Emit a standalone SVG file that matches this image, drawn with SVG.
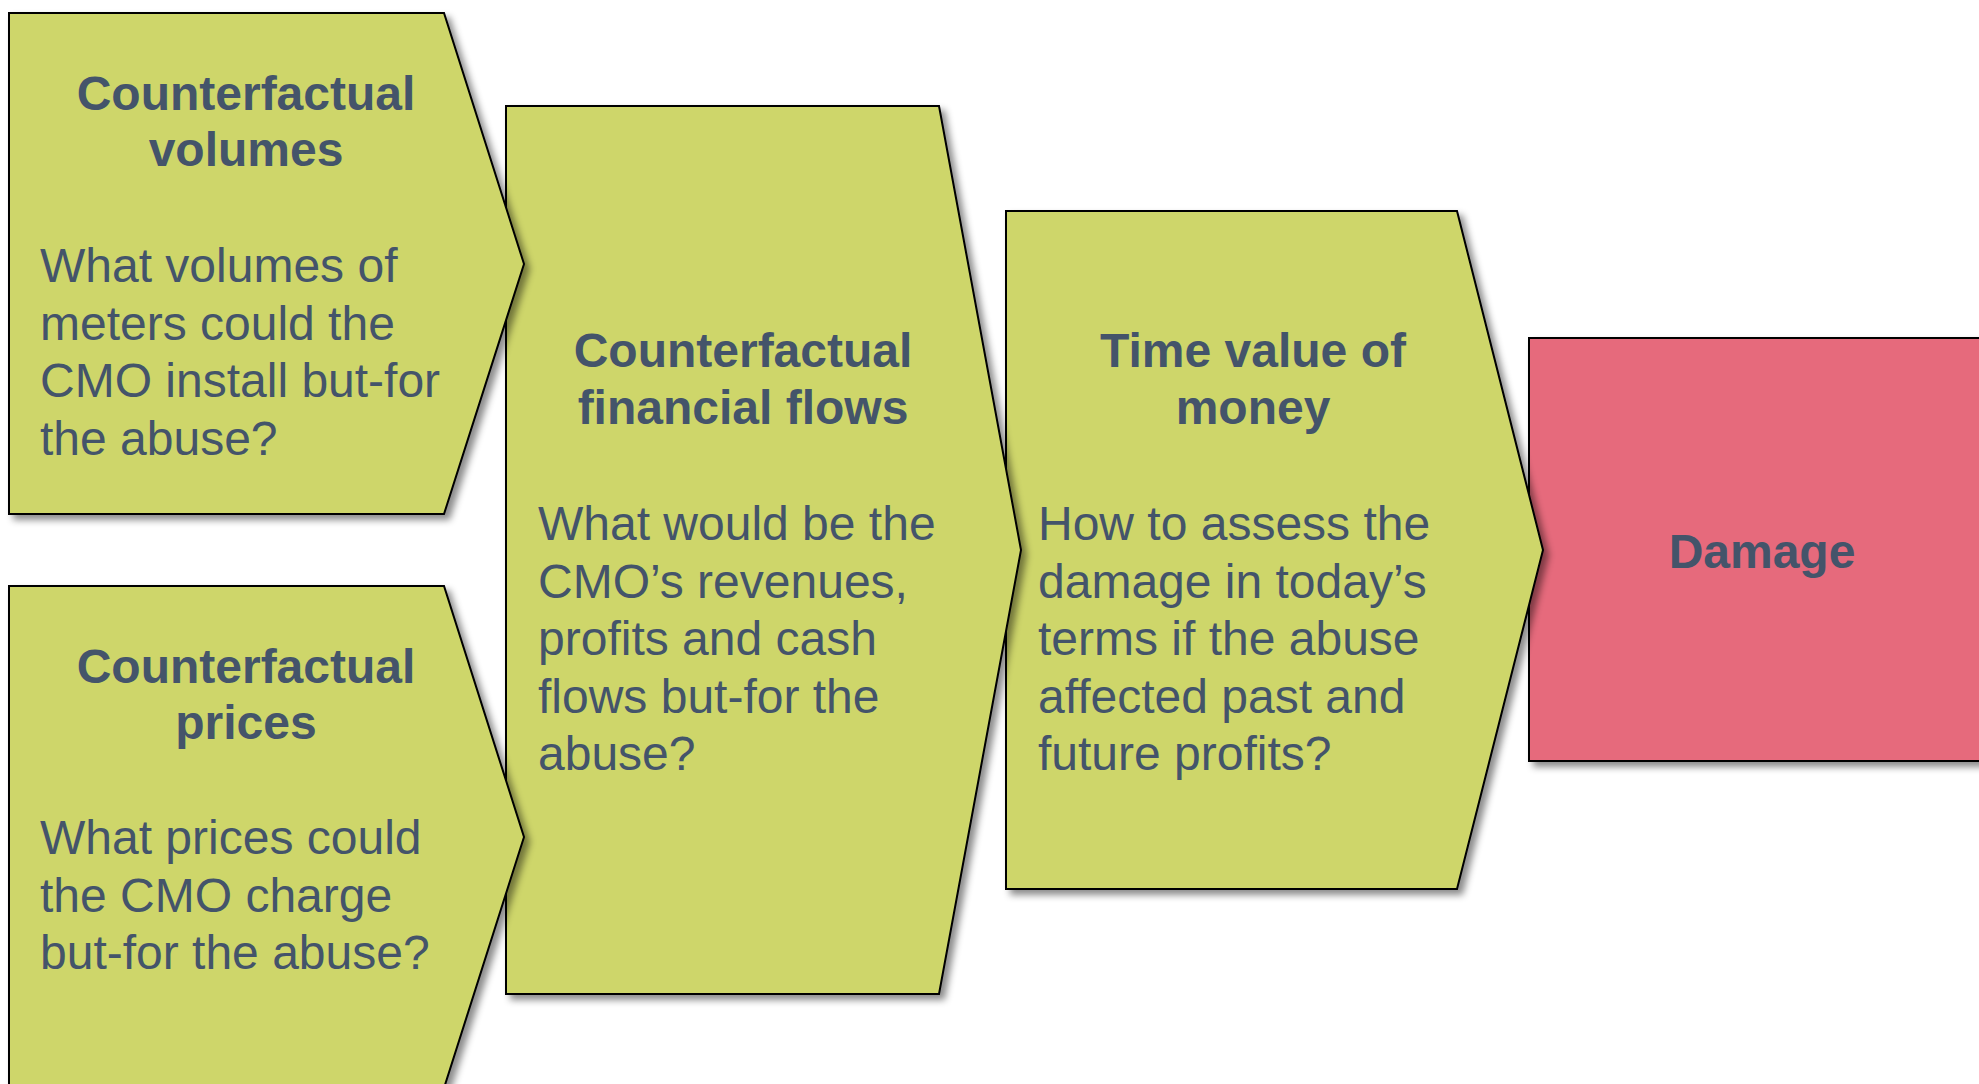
<svg xmlns="http://www.w3.org/2000/svg" width="1979" height="1084" viewBox="0 0 1979 1084">
  <defs>
    <filter id="shadow" x="-10%" y="-10%" width="130%" height="130%">
      <feDropShadow dx="5" dy="5" stdDeviation="3.5" flood-color="#000" flood-opacity="0.45"/>
    </filter>
    <style>
      .step { fill: #CED66A; stroke: #000; stroke-width: 2; stroke-linejoin: miter; filter: url(#shadow); }
      .result { fill: #E66A7C; stroke: #000; stroke-width: 2; filter: url(#shadow); }
      .title { font-family: "Liberation Sans", Arial, sans-serif; font-weight: bold; font-size: 48px; fill: #44546A; text-anchor: middle; }
      .body { font-family: "Liberation Sans", Arial, sans-serif; font-size: 48px; fill: #44546A; }
    </style>
  </defs>
  <rect width="1979" height="1084" fill="#fff"/>

  <!-- Final outcome box (drawn first so the chevron tip sits on top) -->
  <g id="damage">
    <rect class="result" x="1529" y="338" width="480" height="423"/>
    <text class="title" x="1762" y="568">Damage</text>
  </g>

  <!-- Step 3: discounting -->
  <g id="time-value">
    <polygon class="step" points="1006,211 1457,211 1543,550 1457,889 1006,889"/>
    <text class="title" x="1253" y="367">Time value of</text>
    <text class="title" x="1253" y="424">money</text>
    <text class="body" x="1038" y="540">How to assess the</text>
    <text class="body" x="1038" y="597.5">damage in today’s</text>
    <text class="body" x="1038" y="655">terms if the abuse</text>
    <text class="body" x="1038" y="712.5">affected past and</text>
    <text class="body" x="1038" y="770">future profits?</text>
  </g>

  <!-- Step 2: financial flows -->
  <g id="financial-flows">
    <polygon class="step" points="506,106 939,106 1021,550 939,994 506,994"/>
    <text class="title" x="743" y="367">Counterfactual</text>
    <text class="title" x="743" y="424">financial flows</text>
    <text class="body" x="538" y="540">What would be the</text>
    <text class="body" x="538" y="597.5">CMO’s revenues,</text>
    <text class="body" x="538" y="655">profits and cash</text>
    <text class="body" x="538" y="712.5">flows but-for the</text>
    <text class="body" x="538" y="770">abuse?</text>
  </g>

  <!-- Step 1a: volumes -->
  <g id="volumes">
    <polygon class="step" points="9,13 444,13 524,264 444,514 9,514"/>
    <text class="title" x="246" y="110">Counterfactual</text>
    <text class="title" x="246" y="166">volumes</text>
    <text class="body" x="40" y="282">What volumes of</text>
    <text class="body" x="40" y="339.5">meters could the</text>
    <text class="body" x="40" y="397">CMO install but-for</text>
    <text class="body" x="40" y="454.5">the abuse?</text>
  </g>

  <!-- Step 1b: prices -->
  <g id="prices">
    <polygon class="step" points="9,586 444,586 524,837 444,1088 9,1088"/>
    <text class="title" x="246" y="683">Counterfactual</text>
    <text class="title" x="246" y="739">prices</text>
    <text class="body" x="40" y="854">What prices could</text>
    <text class="body" x="40" y="911.5">the CMO charge</text>
    <text class="body" x="40" y="969">but-for the abuse?</text>
  </g>
</svg>
